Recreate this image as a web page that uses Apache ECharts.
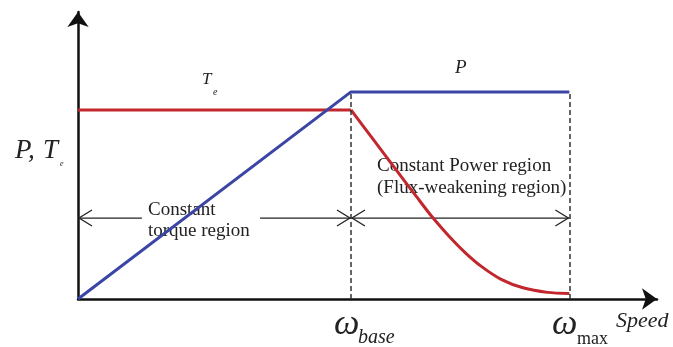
<!DOCTYPE html>
<html>
<head>
<meta charset="utf-8">
<script src="https://cdn.jsdelivr.net/npm/echarts@6/dist/echarts.min.js"></script>
<style>
  html, body { margin: 0; padding: 0; background: #fff; }
  #chart { width: 673px; height: 347px; }
</style>
</head>
<body>
<div id="chart"></div>
<script>
// Speed in per-unit of base speed; power and torque in per-unit of rated power.
const powerSpeed = [0, 1, 1.8];
const powerValues = [0, 1, 1];
const torqueFlatSpeed = [0, 1];
const torqueFlatValues = [0.913, 0.913];
const torqueCurveSpeed = [1, 1.08, 1.16, 1.24, 1.30, 1.36, 1.42, 1.48, 1.55, 1.63, 1.72, 1.8];
const torqueCurveValues = [0.913, 0.773, 0.633, 0.494, 0.392, 0.302, 0.222, 0.155, 0.095, 0.054, 0.032, 0.027];
const speedMarks = [1, 1.8];            // base speed, max speed
const regionSpans = [[0, 1], [1, 1.8]]; // constant torque, constant power
const regionArrowLevel = 0.391;
const torqueLabelGap = [0.234, 0.667];  // break in the arrow where its label sits

const SERIF = '"Liberation Serif", "DejaVu Serif", serif';
const INK = '#222';
const RED = '#c1272d';
const BLUE = '#3a45a6';

const zip = (xs, ys) => xs.map((x, i) => [x, ys[i]]);

const chart = echarts.init(document.getElementById('chart'), null, { renderer: 'canvas' });

const axisCommon = {
  type: 'value',
  axisLine: {
    show: true,
    onZero: false,
    symbol: ['none', 'arrow'],
    symbolSize: [16, 15],
    lineStyle: { color: '#111', width: 2.5 }
  },
  axisTick: { show: false },
  axisLabel: { show: false },
  splitLine: { show: false }
};

function text(x, y, str, size, opts) {
  return {
    type: 'text',
    x: x, y: y,
    silent: true,
    style: Object.assign({
      text: str,
      font: (opts && opts.fontStyle ? opts.fontStyle + ' ' : '') + size + 'px ' + SERIF,
      fill: INK,
      align: 'left',
      verticalAlign: 'middle'
    }, opts && opts.style)
  };
}

const option = {
  animation: false,
  grid: { left: 78, right: 16, top: 12, bottom: 48 },
  xAxis: Object.assign({}, axisCommon, { min: 0, max: 2.121 }),
  yAxis: Object.assign({}, axisCommon, { min: 0, max: 1.386 }),
  series: [
    {
      name: 'Te',
      type: 'line',
      data: zip(torqueFlatSpeed, torqueFlatValues),
      showSymbol: false,
      lineStyle: { color: RED, width: 3 },
      z: 3
    },
    {
      name: 'Te weakening',
      type: 'line',
      data: zip(torqueCurveSpeed, torqueCurveValues),
      smooth: 0.3,
      showSymbol: false,
      lineStyle: { color: RED, width: 3 },
      z: 3
    },
    {
      name: 'P',
      type: 'line',
      data: zip(powerSpeed, powerValues),
      showSymbol: false,
      lineStyle: { color: BLUE, width: 3 },
      z: 4,
      markLine: {
        silent: true,
        symbol: 'none',
        label: { show: false },
        lineStyle: { color: '#333', width: 1.5, type: [5, 3] },
        data: speedMarks.map(s => [{ coord: [s, 0] }, { coord: [s, 1] }])
      }
    },
    {
      name: 'regions',
      type: 'custom',
      silent: true,
      z: 2,
      encode: { x: [0, 1], y: 2 },
      data: regionSpans.map(s => [s[0], s[1], regionArrowLevel]),
      renderItem: function (params, api) {
        const lvl = api.value(2);
        const a = api.coord([api.value(0), lvl]);
        const b = api.coord([api.value(1), lvl]);
        const y = a[1];
        const st = { stroke: INK, lineWidth: 1.3, fill: null };
        const children = [];
        if (params.dataIndex === 0) {
          const g0 = api.coord([torqueLabelGap[0], lvl])[0];
          const g1 = api.coord([torqueLabelGap[1], lvl])[0];
          children.push({ type: 'line', shape: { x1: a[0], y1: y, x2: g0, y2: y }, style: st });
          children.push({ type: 'line', shape: { x1: g1, y1: y, x2: b[0], y2: y }, style: st });
        } else {
          children.push({ type: 'line', shape: { x1: a[0], y1: y, x2: b[0], y2: y }, style: st });
        }
        const L = 14, H = 8;
        children.push({ type: 'polyline', shape: { points: [[a[0] + L, y - H], [a[0] + 1, y], [a[0] + L, y + H]] }, style: st });
        children.push({ type: 'polyline', shape: { points: [[b[0] - L, y - H], [b[0] - 1, y], [b[0] - L, y + H]] }, style: st });
        return { type: 'group', children: children };
      }
    }
  ],
  graphic: [
    // curve labels
    text(202, 80, 'T', 17, { fontStyle: 'italic' }),
    text(213, 92, 'e', 10, { fontStyle: 'italic' }),
    text(455, 68, 'P', 19, { fontStyle: 'italic' }),
    // vertical axis title
    text(15, 151, 'P,', 27, { fontStyle: 'italic' }),
    text(43, 151, 'T', 27, { fontStyle: 'italic' }),
    text(60, 164, 'e', 8, { fontStyle: 'italic' }),
    // region labels
    text(377, 177, 'Constant Power region\n(Flux-weakening region)', 19, { style: { lineHeight: 22 } }),
    text(148, 221, 'Constant\ntorque region', 19, { style: { lineHeight: 21 } }),
    // speed axis labels
    text(334, 325, 'ω', 36, { fontStyle: 'italic' }),
    text(358, 338, 'base', 20, { fontStyle: 'italic' }),
    text(552, 325, 'ω', 36, { fontStyle: 'italic' }),
    text(577, 339, 'max', 18),
    text(616, 321, 'Speed', 22, { fontStyle: 'italic' })
  ]
};

chart.setOption(option);
</script>
</body>
</html>
